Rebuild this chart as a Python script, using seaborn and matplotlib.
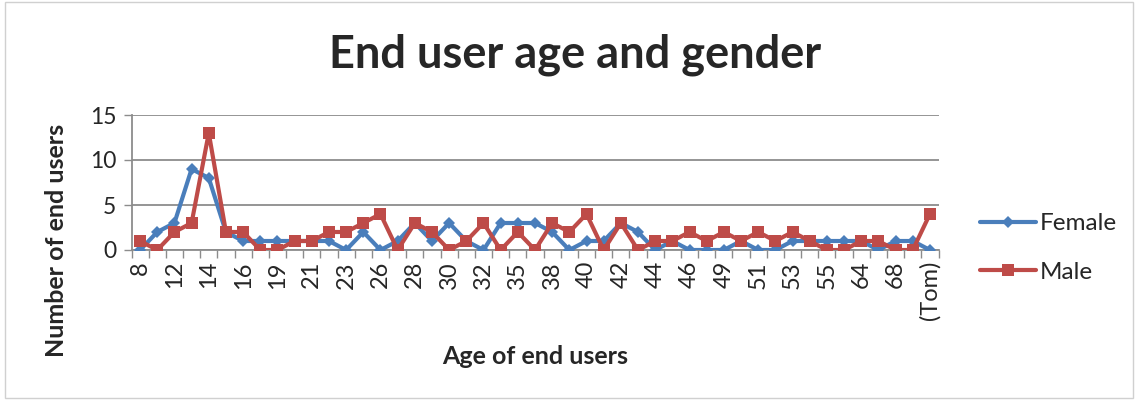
import matplotlib
matplotlib.use("Agg")
import matplotlib.pyplot as plt
from matplotlib.lines import Line2D
from matplotlib.patches import Rectangle
import numpy as np
import pandas as pd
import seaborn as sns

# Age categories (the last entry is the named respondent)
ages = ["8", "10", "12", "13", "14", "15", "16", "17", "19", "20",
        "21", "22", "23", "25", "26", "27", "28", "29", "30", "31",
        "32", "33", "35", "36", "38", "39", "40", "41", "42", "43",
        "44", "45", "46", "47", "49", "50", "51", "52", "53", "54",
        "55", "58", "64", "65", "68", "71", "(Tom)"]

female = [0, 2, 3, 9, 8, 2, 1, 1, 1, 1, 1, 1, 0, 2, 0, 1, 3, 1, 3, 1,
          0, 3, 3, 3, 2, 0, 1, 1, 3, 2, 0, 1, 0, 0, 0, 1, 0, 0, 1, 1,
          1, 1, 1, 0, 1, 1, 0]

male = [1, 0, 2, 3, 13, 2, 2, 0, 0, 1, 1, 2, 2, 3, 4, 0, 3, 2, 0, 1,
        3, 0, 2, 0, 3, 2, 4, 0, 3, 0, 1, 1, 2, 1, 2, 1, 2, 1, 2, 1,
        0, 0, 1, 1, 0, 0, 4]

series_names = ["Female", "Male"]
y_ticks = [0, 5, 10, 15]

sns.set_theme(style="white")
plt.rcParams["font.family"] = ["Lato", "DejaVu Sans"]

blue = "#4A7EBB"
red = "#BE4B48"
grid_col = "#8C8C8C"

pos = np.arange(len(ages))
df = pd.DataFrame({
    "pos": np.concatenate([pos, pos]),
    "count": female + male,
    "gender": [series_names[0]] * len(ages) + [series_names[1]] * len(ages),
})

fig = plt.figure(figsize=(11.38, 4.0), dpi=100)
ax = fig.add_axes([131.5 / 1138, 150 / 400, (938.5 - 131.5) / 1138, 135 / 400])

sns.lineplot(data=df, x="pos", y="count", hue="gender", style="gender",
             markers={"Female": "D", "Male": "s"}, dashes=False,
             palette={"Female": blue, "Male": red}, linewidth=3.0,
             markersize=7.5, markeredgewidth=0, legend=False, ax=ax,
             zorder=3)
# Male markers a bit larger than the diamonds
for line, ms in zip(ax.lines, [6.5, 8.5]):
    line.set_markersize(ms)

ax.set_xlim(-0.5, len(ages) - 0.5)
ax.set_ylim(0, 15)
ax.set_yticks(y_ticks)
ax.yaxis.grid(True, color=grid_col, linewidth=1.3)
ax.set_axisbelow(True)

# Category labels on every other position, tick marks between categories
ax.set_xticks(pos)
ax.set_xticklabels([a if i % 2 == 0 else "" for i, a in enumerate(ages)],
                   rotation=90, fontsize=17)
ax.tick_params(axis="x", which="major", length=0, pad=8)
ax.set_xticks(np.arange(-0.5, len(ages), 1.0), minor=True)
ax.tick_params(axis="x", which="minor", length=6, width=1.0,
               color=grid_col, bottom=True)
ax.tick_params(axis="y", which="major", length=6, width=1.0,
               color=grid_col, left=True, labelsize=16.5, pad=5)

for side in ["top", "right"]:
    ax.spines[side].set_visible(False)
for side in ["left", "bottom"]:
    ax.spines[side].set_color(grid_col)
    ax.spines[side].set_linewidth(1.3)

ax.set_xlabel("Age of end users", fontsize=18, fontweight="bold", labelpad=0)
ax.xaxis.set_label_coords(0.5, -0.70)
ax.set_ylabel("Number of end users", fontsize=18, fontweight="bold")
ax.yaxis.set_label_coords(-0.079, 0.074)

fig.text(0.505, 0.862, "End user age and gender", ha="center", va="center",
         fontsize=32.5, fontweight="bold")

handles = [
    Line2D([], [], color=blue, lw=3.0, marker="D", markersize=6.5,
           markeredgewidth=0),
    Line2D([], [], color=red, lw=3.0, marker="s", markersize=8.5,
           markeredgewidth=0),
]
fig.legend(handles, series_names, loc="center left",
           bbox_to_anchor=(958 / 1138, 0.38), frameon=False, fontsize=17.5,
           handlelength=2.3, handletextpad=0.15, labelspacing=1.15)

# Thin chart-area border
fig.patches.append(Rectangle((0.004, 0.005), 0.992, 0.99,
                             transform=fig.transFigure, fill=False,
                             edgecolor="#D0D0D0", linewidth=1.0))

fig.savefig("out.png", dpi=100)
